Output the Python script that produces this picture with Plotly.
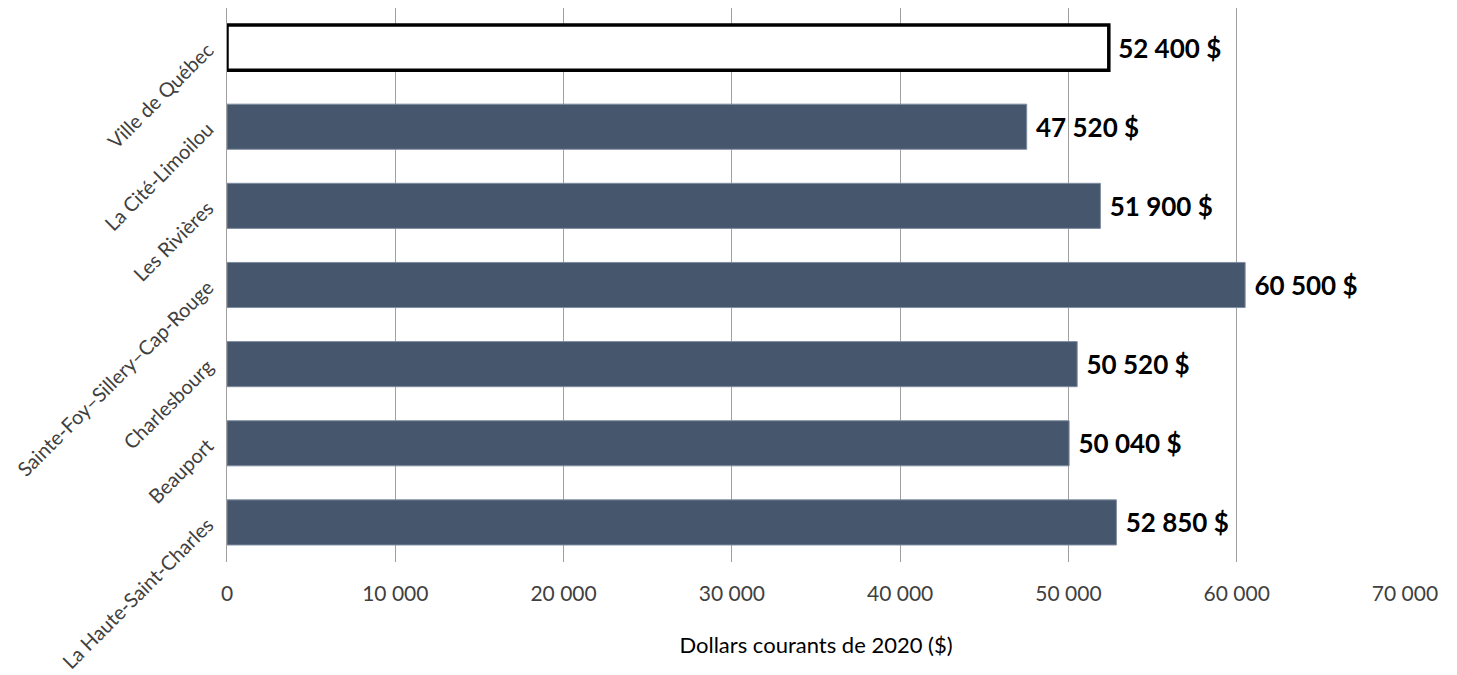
import plotly.graph_objects as go

categories = ["Ville de Québec", "La Cité-Limoilou", "Les Rivières",
              "Sainte-Foy–Sillery–Cap-Rouge", "Charlesbourg", "Beauport",
              "La Haute-Saint-Charles"]
values = [52400, 47520, 51900, 60500, 50520, 50040, 52850]
tick_vals = [0, 10000, 20000, 30000, 40000, 50000, 60000, 70000]
tick_text = ["0", "10 000", "20 000", "30 000", "40 000", "50 000", "60 000", "70 000"]

labels = ["\u00a0" + f"{v:,}".replace(",", " ") + " $" for v in values]
fill = ["#FFFFFF"] + ["#46566D"] * (len(values) - 1)
line_c = ["#000000"] + ["#7F8CA0"] * (len(values) - 1)
line_w = [3.5] + [1] * (len(values) - 1)

FONT = "Lato, Open Sans, sans-serif"

fig = go.Figure(go.Bar(
    x=values, y=categories, orientation="h",
    marker=dict(color=fill, line=dict(color=line_c, width=line_w)),
    width=0.57,
    text=labels, textposition="outside", cliponaxis=False,
    textfont=dict(family=FONT, size=26, color="#000000", weight="bold"),
))

fig.update_layout(
    width=1457, height=675,
    margin=dict(l=219, r=60, t=0, b=121),
    plot_bgcolor="white", paper_bgcolor="white",
    showlegend=False,
    font=dict(family=FONT, size=21, color="#404040"),
    xaxis=dict(range=[0, 70000], tickvals=tick_vals, ticktext=tick_text,
               showgrid=True, gridcolor="#A0A0A0", gridwidth=1.3,
               zeroline=False, showline=False, automargin=False,
               ticks="", ticklabelstandoff=17,
               tickfont=dict(size=21, color="#404040"),
               title=dict(text="Dollars courants de 2020 ($)", standoff=33,
                          font=dict(size=22, color="#000000"))),
    yaxis=dict(autorange="reversed", tickangle=-45, automargin=False,
               showline=True, linecolor="#A0A0A0", linewidth=1.3,
               ticks="", showgrid=False, ticklabelstandoff=14,
               tickfont=dict(size=20, color="#404040")),
)

fig.write_html("out.html")
